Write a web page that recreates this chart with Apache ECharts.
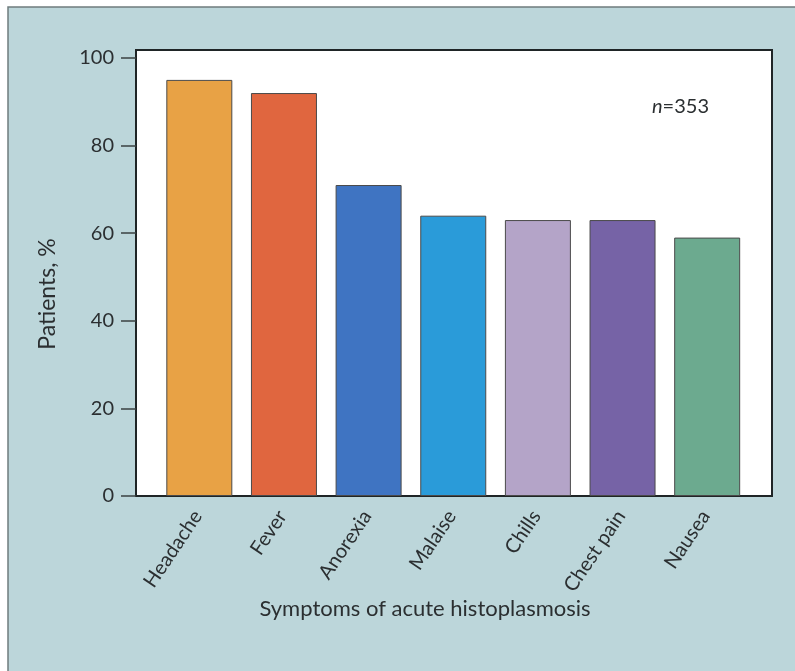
<!DOCTYPE html>
<html>
<head>
<meta charset="utf-8">
<script src="https://cdn.jsdelivr.net/npm/echarts@6/dist/echarts.min.js"></script>
<style>
  html, body { margin: 0; padding: 0; background: #ffffff; }
  #chart { width: 795px; height: 671px; }
</style>
</head>
<body>
<div id="chart"></div>
<script>
// Symptoms reported in acute histoplasmosis (n = 353)
const categories = ['Headache', 'Fever', 'Anorexia', 'Malaise', 'Chills', 'Chest pain', 'Nausea'];
const patientsPct = [95, 92, 71, 64, 63, 63, 59];
const barColors = ['#e8a245', '#e0663f', '#3f74c2', '#2a9bd9', '#b4a4c8', '#7663a6', '#6caa8f'];
const yTicks = [0, 20, 40, 60, 80, 100];

const FONT = 'Lato, "Open Sans", sans-serif';
const TEXT = '#2b2f31';

const chart = echarts.init(document.getElementById('chart'), null, { renderer: 'canvas' });

chart.setOption({
  backgroundColor: '#ffffff',
  animation: false,
  graphic: [
    {
      type: 'rect', z: -10, silent: true,
      shape: { x: 8, y: 7, width: 800, height: 680 },
      style: { fill: '#bcd6da', stroke: '#6f7c7e', lineWidth: 1.5 }
    },
    {
      type: 'text', z: 10, x: 425, y: 609,
      style: {
        text: 'Symptoms of acute histoplasmosis', font: '22px ' + FONT, fill: TEXT,
        textAlign: 'center', textVerticalAlign: 'middle'
      }
    },
    {
      type: 'text', z: 10, x: 48, y: 294, rotation: Math.PI / 2,
      style: {
        text: 'Patients, %', font: '23px ' + FONT, fill: TEXT,
        textAlign: 'center', textVerticalAlign: 'middle'
      }
    },
    {
      type: 'text', z: 10, x: 652, y: 107,
      style: {
        text: '{i|n}{r|=353}', textVerticalAlign: 'middle',
        rich: {
          i: { fontStyle: 'italic', fontSize: 20, fontFamily: FONT, fill: TEXT },
          r: { fontSize: 20, fontFamily: FONT, fill: TEXT }
        }
      }
    }
  ],
  grid: [
    // white plotting frame
    { left: 136, top: 50, width: 636, height: 446, show: true, backgroundColor: '#ffffff', borderColor: '#1f2526', borderWidth: 2, z: 0 },
    // category band for the bars
    { left: 157, top: 58, width: 592.5, height: 438, z: 1 }
  ],
  xAxis: [
    { gridIndex: 0, type: 'value', show: false },
    {
      gridIndex: 1, type: 'category', data: categories,
      axisLine: { show: false }, axisTick: { show: false },
      axisLabel: {
        rotate: 56, margin: 14, fontSize: 20, fontFamily: FONT, color: TEXT,
        padding: [0, 3, 13, 0]
      }
    }
  ],
  yAxis: [
    { gridIndex: 0, type: 'value', show: false },
    {
      gridIndex: 1, type: 'value', min: yTicks[0], max: yTicks[yTicks.length - 1], interval: 20,
      offset: 21,
      axisLine: { show: true, lineStyle: { color: '#1f2526', width: 2 } },
      axisTick: { show: true, length: 15, lineStyle: { color: '#3a4142', width: 1.5 } },
      axisLabel: { margin: 22, fontSize: 20, fontFamily: FONT, color: TEXT },
      splitLine: { show: false }
    }
  ],
  series: [{
    type: 'bar',
    xAxisIndex: 1, yAxisIndex: 1,
    barWidth: 66,
    data: patientsPct.map((v, i) => ({
      value: v,
      itemStyle: { color: barColors[i], borderColor: '#4a4a4a', borderWidth: 1 }
    }))
  }]
});
</script>
</body>
</html>
